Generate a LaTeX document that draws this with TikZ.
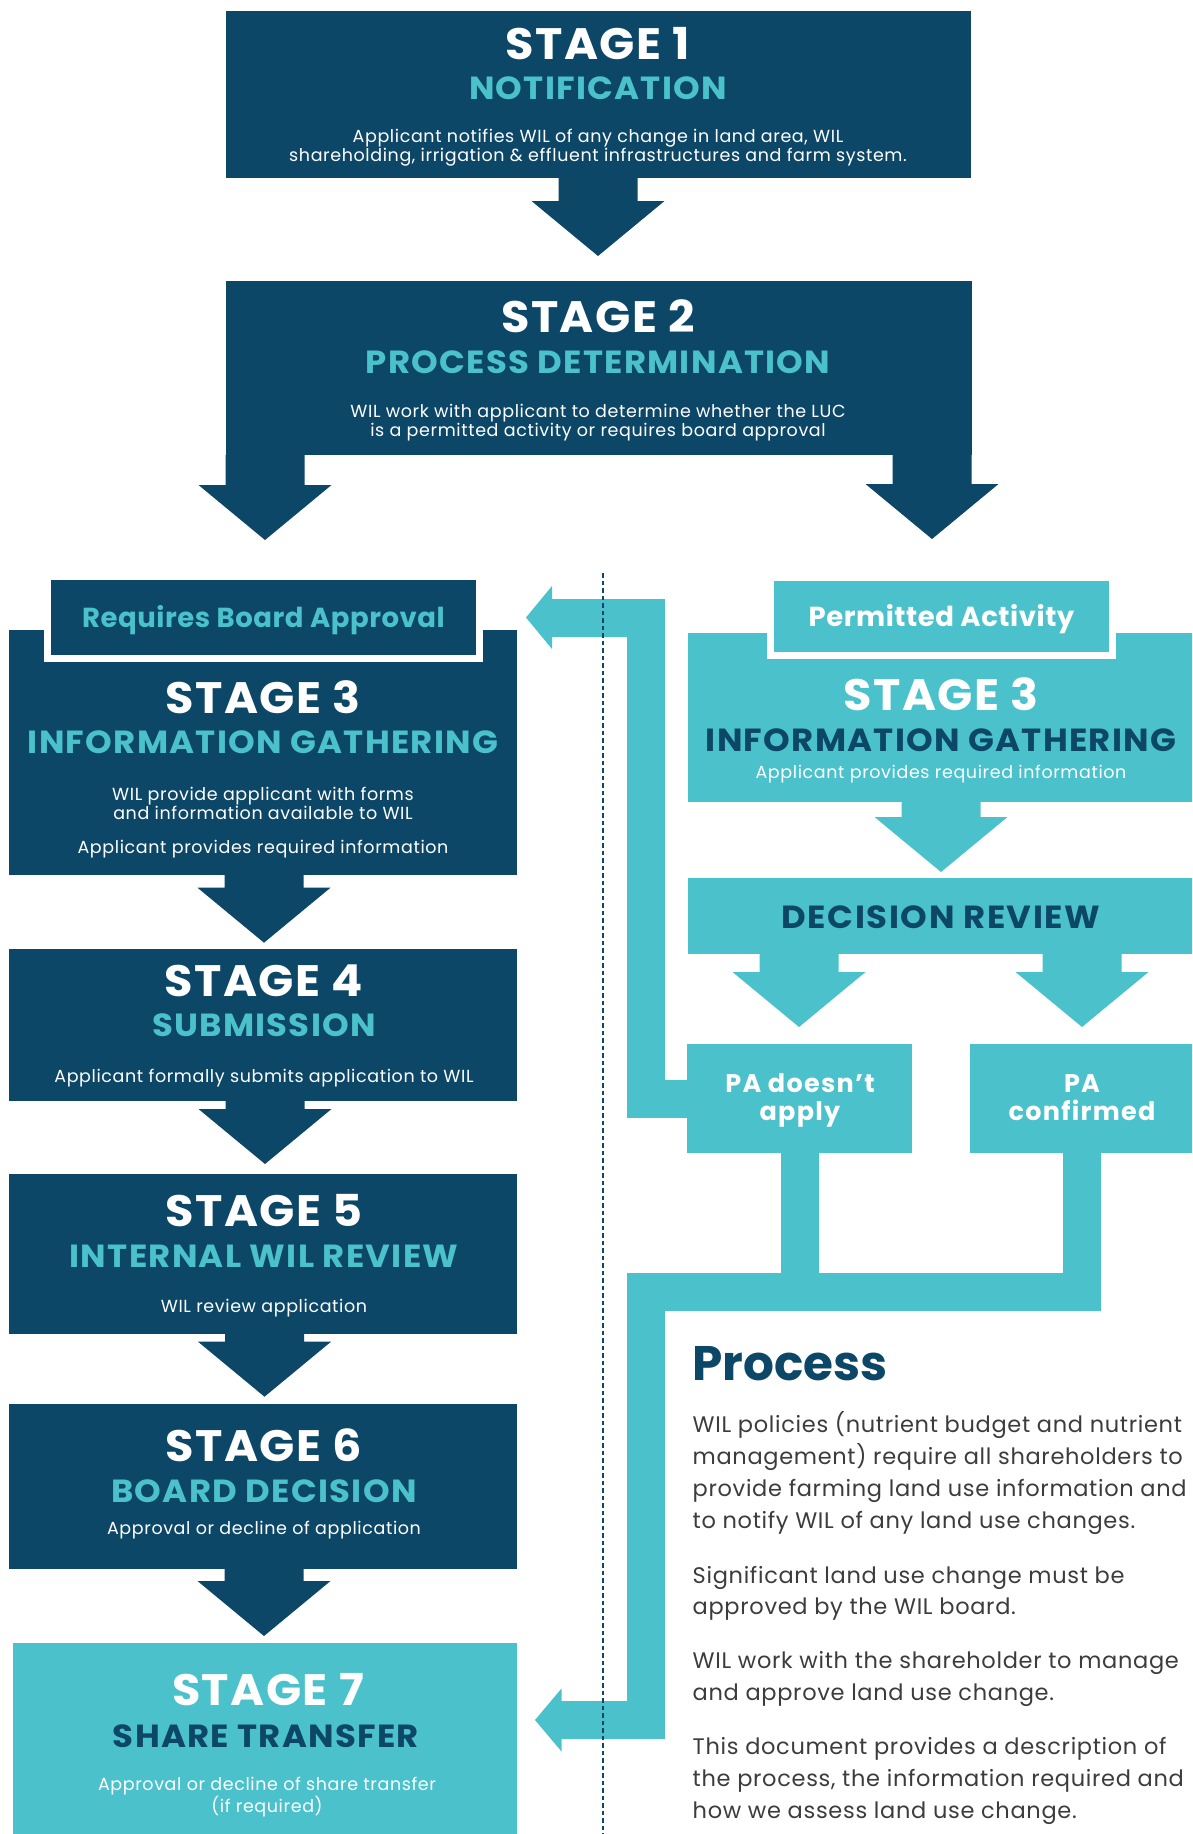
\documentclass[tikz,border=0pt]{standalone}
\usepackage{fontspec}
\setmainfont{Poppins}
\usepackage{tikz}
\usepackage{xcolor}
\usetikzlibrary{calc}

\definecolor{wilnavy}{RGB}{13,71,104}
\definecolor{wilcyan}{RGB}{75,194,203}
\definecolor{wilgrey}{RGB}{60,60,60}

% filled down arrow from the foot of a box to a tip coordinate
\newcommand{\blockarrow}[3]{%
\fill[#1] let \p1=(#2.south), \p2=(#3) in
(\x2-39.5pt,\y1) -- (\x2+39.5pt,\y1) -- (\x2+39.5pt,\y2+55pt) -- (\x2+66.5pt,\y2+55pt)
-- (\x2,\y2) -- (\x2-66.5pt,\y2+55pt) -- (\x2-39.5pt,\y2+55pt) -- cycle;}

\begin{document}
\begin{tikzpicture}[x=1pt,y=-1pt]
% Box styles: navy and cyan panels, tabs with a white rim
\tikzstyle{navy box}=[rectangle,fill=wilnavy,inner sep=0,outer sep=0];
\tikzstyle{cyan box}=[rectangle,fill=wilcyan,inner sep=0,outer sep=0];
\tikzstyle{tab box}=[draw=white,line width=7pt,text height=20pt,text depth=0pt,font=\fontsize{27.5}{27.5}\selectfont\bfseries\addfontfeatures{LetterSpace=2}];
% Text styles, one node per printed line
\tikzstyle{stage title}=[anchor=base,inner sep=0,text=white,font=\fontsize{44}{44}\selectfont\bfseries\addfontfeatures{FakeStretch=1.05,LetterSpace=3.3}];
\tikzstyle{stage head}=[anchor=base,inner sep=0,font=\fontsize{32}{32}\selectfont\bfseries\addfontfeatures{FakeStretch=1.06,LetterSpace=4}];
\tikzstyle{stage text}=[anchor=base,inner sep=0,text=white,font=\fontsize{17.5}{19}\selectfont\addfontfeatures{LetterSpace=3.5}];
\tikzstyle{pa text}=[anchor=base,inner sep=0,text=white,font=\fontsize{25.5}{25.5}\selectfont\bfseries\addfontfeatures{LetterSpace=5}];
\tikzstyle{note text}=[anchor=base west,inner sep=0,text=wilgrey,font=\fontsize{22.5}{22.5}\selectfont\addfontfeatures{LetterSpace=3}];
% Cyan return pipes
\tikzstyle{cyan pipe}=[draw=wilcyan,line width=38pt,line join=miter,line cap=butt];

\useasboundingbox (0,0) rectangle (1192,1834);
\clip (0,0) rectangle (1192,1834);

% Stage 1
\node[navy box,minimum width=745pt,minimum height=167.5pt] (s1) at (598.5,94.25) {};
\node[stage title] (s1a) at (598,59.3) {STAGE 1};
\node[stage head,text=wilcyan] (s1b) at (598,99.3) {NOTIFICATION};
\node[stage text] (s1c) at (598,142.7) {Applicant notifies WIL of any change in land area, WIL};
\node[stage text] (s1d) at (598,161.7) {shareholding, irrigation \& effluent infrastructures and farm system.};
\coordinate (t1) at (598,256);
\blockarrow{wilnavy}{s1}{t1}

% Stage 2 and its two legs
\node[navy box,minimum width=746pt,minimum height=174pt] (s2) at (598.5,368) {};
\node[stage title] (s2a) at (598,332.7) {STAGE 2};
\node[stage head,text=wilcyan] (s2b) at (598,373.3) {PROCESS DETERMINATION};
\node[stage text] (s2c) at (598,417.7) {WIL work with applicant to determine whether the LUC};
\node[stage text] (s2d) at (598,436.7) {is a permitted activity or requires board approval};
\coordinate (t2l) at (265,540);
\coordinate (t2r) at (932,539);
\blockarrow{wilnavy}{s2}{t2l}
\blockarrow{wilnavy}{s2}{t2r}

% Board approval column
\node[navy box,minimum width=508pt,minimum height=245pt] (s3) at (263,752.5) {};
\node[navy box,tab box,minimum width=432pt,minimum height=82pt,text=wilcyan] (rba) at (263.5,617.5) {Requires Board Approval};
\node[stage title] (s3a) at (263,713) {STAGE 3};
\node[stage head,text=wilcyan] (s3b) at (263,753.7) {INFORMATION GATHERING};
\node[stage text] (s3c) at (263,800) {WIL provide applicant with forms};
\node[stage text] (s3d) at (263,819) {and information available to WIL};
\node[stage text] (s3e) at (263,853.7) {Applicant provides required information};
\coordinate (t3) at (264,942.7);
\blockarrow{wilnavy}{s3}{t3}

\node[navy box,minimum width=508pt,minimum height=152pt] (s4) at (263,1025) {};
\node[stage title] (s4a) at (264,996) {STAGE 4};
\node[stage head,text=wilcyan] (s4b) at (264,1036.7) {SUBMISSION};
\node[stage text] (s4c) at (264,1082.7) {Applicant formally submits application to WIL};
\coordinate (t4) at (265,1164);
\blockarrow{wilnavy}{s4}{t4}

\node[navy box,minimum width=508pt,minimum height=160pt] (s5) at (263,1254) {};
\node[stage title] (s5a) at (264,1226.7) {STAGE 5};
\node[stage head,text=wilcyan] (s5b) at (264,1267.7) {INTERNAL WIL REVIEW};
\node[stage text] (s5c) at (264,1312.7) {WIL review application};
\coordinate (t5) at (264.5,1396.7);
\blockarrow{wilnavy}{s5}{t5}

\node[navy box,minimum width=508pt,minimum height=165pt] (s6) at (263,1486.5) {};
\node[stage title] (s6a) at (264,1461.7) {STAGE 6};
\node[stage head,text=wilcyan] (s6b) at (264,1502.7) {BOARD DECISION};
\node[stage text] (s6c) at (264,1534) {Approval or decline of application};
\coordinate (t6) at (264,1636);
\blockarrow{wilnavy}{s6}{t6}

\node[cyan box,minimum width=504pt,minimum height=197pt] (s7) at (265,1741.5) {};
\node[stage title] (s7a) at (268,1705) {STAGE 7};
\node[stage head,text=wilnavy] (s7b) at (266,1747.7) {SHARE TRANSFER};
\node[stage text] (s7c) at (267,1790.7) {Approval or decline of share transfer};
\node[stage text] (s7d) at (267,1812) {(if required)};

% Permitted activity column
\node[cyan box,minimum width=506pt,minimum height=169pt] (p3) at (941,717.5) {};
\node[cyan box,tab box,minimum width=342pt,minimum height=78pt,text=white] (pmt) at (941.5,616.5) {Permitted Activity};
\node[stage title] (p3a) at (941,710.7) {STAGE 3};
\node[stage head,text=wilnavy] (p3b) at (941,751) {INFORMATION GATHERING};
\node[stage text] (p3c) at (941,778.5) {Applicant provides required information};
\coordinate (t7) at (941,872);
\blockarrow{wilcyan}{p3}{t7}

\node[cyan box,minimum width=506pt,minimum height=76pt] (dr) at (941,916) {};
\node[stage head,text=wilnavy,font=\fontsize{32}{32}\selectfont\bfseries\addfontfeatures{FakeStretch=1.06,LetterSpace=5}] (dra) at (941,928) {DECISION REVIEW};
\coordinate (t8) at (799,1027);
\coordinate (t9) at (1082,1027);
\blockarrow{wilcyan}{dr}{t8}
\blockarrow{wilcyan}{dr}{t9}

\node[cyan box,minimum width=225pt,minimum height=109pt] (pa1) at (799.5,1098.5) {};
\node[pa text] (pa1a) at (800,1092) {PA doesn’t};
\node[pa text] (pa1b) at (800,1120.7) {apply};
\node[cyan box,minimum width=224pt,minimum height=109pt] (pa2) at (1082,1098.5) {};
\node[pa text] (pa2a) at (1082,1092) {PA};
\node[pa text] (pa2b) at (1082,1120.7) {confirmed};

% Return pipes
\coordinate (fb) at (526,617.5);
\coordinate (st) at (535,1720);
\draw[cyan pipe] (pa1.west) -- ++(-41,0) |- ($(fb)+(24,0)$);
\fill[wilcyan] ($(fb)+(26,-31.5)$) -- (fb) -- ($(fb)+(26,31.5)$) -- cycle;
\draw[cyan pipe] (pa1.south) -- ++(0,138.5);
\draw[cyan pipe] (pa2.south) -- ++(0,138.5) -| (646,1720) -- ($(st)+(24,0)$);
\fill[wilcyan] ($(st)+(26.5,-31.5)$) -- (st) -- ($(st)+(26.5,31.5)$) -- cycle;

% Process notes
\node[anchor=base west,inner sep=0,text=wilnavy,font=\fontsize{48.5}{48.5}\selectfont\bfseries] (proc) at (692.5,1380.7) {Process};
\node[note text] (n1) at (692.5,1432) {WIL policies (nutrient budget and nutrient};
\node[note text] (n2) at (692.5,1464) {management) require all shareholders to};
\node[note text] (n3) at (692.5,1496) {provide farming land use information and};
\node[note text] (n4) at (692.5,1528) {to notify WIL of any land use changes.};
\node[note text] (n5) at (692.5,1583) {Significant land use change must be};
\node[note text] (n6) at (692.5,1614.6) {approved by the WIL board.};
\node[note text] (n7) at (692.5,1668.8) {WIL work with the shareholder to manage};
\node[note text] (n8) at (692.5,1700) {and approve land use change.};
\node[note text] (n9) at (692.5,1754) {This document provides a description of};
\node[note text] (n10) at (692.5,1786.4) {the process, the information required and};
\node[note text] (n11) at (692.5,1818.6) {how we assess land use change.};

% Divider
\coordinate (divtop) at (603,573);
\coordinate (divbot) at (603,1834);
\draw[wilnavy,line width=1.5pt,dash pattern=on 4.5pt off 3pt] (divtop) -- (divbot);
\end{tikzpicture}
\end{document}
